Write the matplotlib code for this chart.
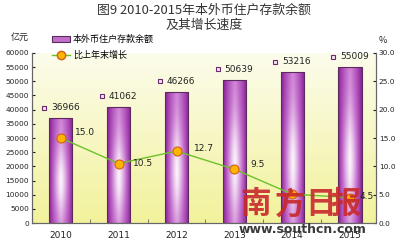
import numpy as np
import matplotlib.pyplot as plt
from matplotlib.colors import LinearSegmentedColormap
from matplotlib.patches import Rectangle, Patch
from matplotlib.lines import Line2D

plt.rcParams['font.family'] = ['Noto Sans CJK SC', 'DejaVu Sans']

# 数据
years = ['2010', '2011', '2012', '2013', '2014', '2015']
deposits = [36966, 41062, 46266, 50639, 53216, 55009]   # 亿元
growth = [15.0, 10.5, 12.7, 9.5, 5.1, 4.5]              # %
growth_labels = ['15.0', '10.5', '12.7', '9.5', '', '4.5']  # 2014 的标注被水印遮住

fig = plt.figure(figsize=(4, 2.43), dpi=100)
fig.patch.set_facecolor('white')
ax = fig.add_axes([0.08, 0.082, 0.86, 0.700])
ax2 = ax.twinx()

x = np.arange(len(years))
ax.set_xlim(-0.5, 5.45)
ax.set_ylim(0, 60000)
ax2.set_ylim(0, 30)

# 背景渐变
bg_cmap = LinearSegmentedColormap.from_list('bg', ['#f2f29c', '#fcfcec'])
ax.imshow(np.linspace(0, 1, 100).reshape(-1, 1), cmap=bg_cmap, origin='lower',
          extent=[-0.5, 5.45, 0, 60000], aspect='auto', zorder=0)

# 柱子（横向渐变）
bar_cmap = LinearSegmentedColormap.from_list('bar', ['#8a1f98', '#c774cf', '#fbf3fb'])
bw = 0.4
hh = np.linspace(0, 1, 60)
vv = np.linspace(0, 1, 80)
H, V = np.meshgrid(hh, vv)
grad = (1 - np.abs(2 * H - 1) ** 1.3) * (0.55 + 0.45 * np.exp(-((V - 0.4) / 0.35) ** 2))
bars = ax.bar(x, deposits, width=bw, color='none', edgecolor='#5b2a5e', linewidth=0.8, zorder=3)
for b in bars:
    x0, w, h = b.get_x(), b.get_width(), b.get_height()
    im = ax.imshow(grad, cmap=bar_cmap, origin='lower', extent=[x0, x0 + w, 0, h],
                   aspect='auto', zorder=2, vmin=0, vmax=1)
    im.set_clip_path(Rectangle((x0, 0), w, h, transform=ax.transData))

# 柱子数值
for xi, v in zip(x, deposits):
    ax.plot(xi - 0.29, v + 3700, 's', ms=3.5, mfc='#f4e4f4', mec='#6a2a70', mew=0.8, zorder=4)
    ax.text(xi - 0.17, v + 3700, str(v), fontsize=6.5, va='center', ha='left',
            color='#222222', family='DejaVu Sans', zorder=4)

# 增长折线
ax2.plot(x, growth, '-', color='#6cc12a', lw=1.0, marker='o', ms=6.5,
         mfc='#ffb400', mec='#d0601a', mew=0.8, zorder=5)
offs = [(0.24, 1.0), (0.24, 0.0), (0.3, 0.4), (0.28, 0.9), (0.26, 0.6), (0.16, 0.2)]
for xi, g, lab, (dx, dy) in zip(x, growth, growth_labels, offs):
    if lab:
        ax2.text(xi + dx, g + dy, lab, fontsize=6.5, va='center', ha='left',
                 color='#222222', family='DejaVu Sans', zorder=6)
ax.set_zorder(1)
ax2.set_zorder(2)
ax2.patch.set_visible(False)

# 坐标轴
ax.set_yticks(np.arange(0, 60001, 5000))
ax.set_yticklabels([str(v) for v in range(0, 60001, 5000)], fontsize=5.3, family='DejaVu Sans')
ax2.set_yticks(np.arange(0, 31, 5))
ax2.set_yticklabels(['%.1f' % v for v in range(0, 31, 5)], fontsize=5.3, family='DejaVu Sans')
ax.set_xticks(x)
ax.set_xticklabels(years, fontsize=6.5, family='DejaVu Sans')
ax.set_xticks(np.arange(-0.5, 5.5, 1)[1:], minor=True)
ax.tick_params(axis='x', which='major', length=0, pad=6, colors='#222222')
ax.tick_params(axis='x', which='minor', length=3, direction='in', color='#666666')
ax.tick_params(axis='y', length=2, direction='in', pad=2, colors='#222222')
ax2.tick_params(axis='y', length=2, direction='in', pad=2, colors='#222222')
ax.spines['top'].set_visible(False)
ax2.spines['top'].set_visible(False)
for a in (ax, ax2):
    for sp in ['left', 'right', 'bottom']:
        a.spines[sp].set_color('#666666')
        a.spines[sp].set_linewidth(0.8)

# 标题与单位
fig.text(0.51, 0.957, '图9 2010-2015年本外币住户存款余额', ha='center', va='center',
         fontsize=9.3, color='#333333')
fig.text(0.51, 0.897, '及其增长速度', ha='center', va='center', fontsize=9.3, color='#333333')
fig.text(0.05, 0.845, '亿元', ha='center', va='center', fontsize=6.5, color='#222222')
fig.text(0.957, 0.835, '%', ha='center', va='center', fontsize=6.5, color='#222222')

# 图例
handles = [Patch(facecolor='#c070c8', edgecolor='#5b2a5e', linewidth=0.8),
           Line2D([], [], color='#6cc12a', lw=1.0, marker='o', ms=6,
                  mfc='#ffb400', mec='#d0601a')]
fig.legend(handles, ['本外币住户存款余额', '比上年末增长'], loc='upper left',
           bbox_to_anchor=(0.11, 0.89), frameon=False, fontsize=6.5,
           handlelength=2.0, handleheight=0.6, handletextpad=0.3, labelspacing=0.75)

# 水印
for cx, ch in zip([0.64, 0.725, 0.80, 0.865], '南方日报'):
    fig.text(cx, 0.16, ch, ha='center', va='center', fontsize=22,
             color='#c8282c', fontweight='bold', alpha=0.9, zorder=10)
fig.text(0.757, 0.055, 'www.southcn.com', ha='center', va='center', fontsize=9,
         color='#3a3a3a', fontweight='bold', family='DejaVu Sans', zorder=10)

fig.savefig('out.png', dpi=100)
